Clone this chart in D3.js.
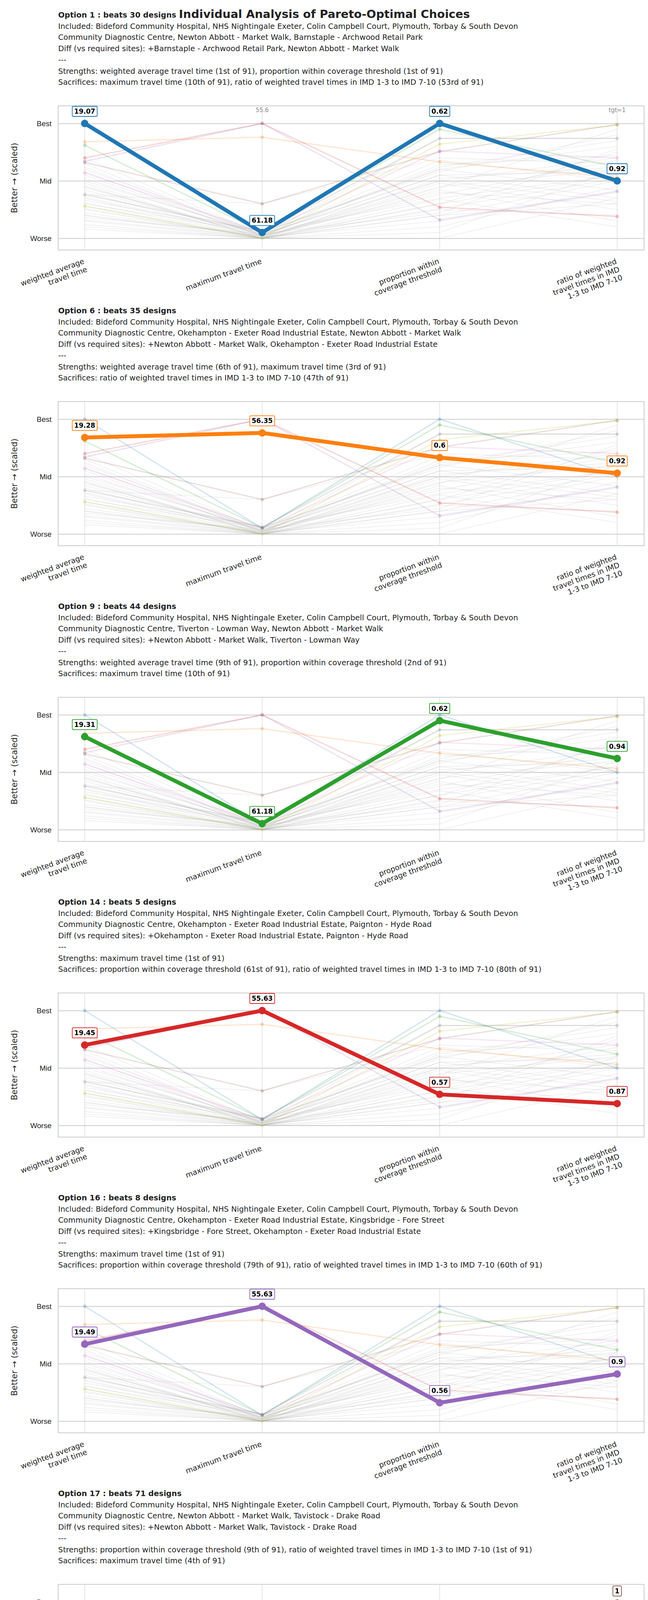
<!DOCTYPE html>
<html>
<head>
<meta charset="utf-8">
<script src="https://cdn.jsdelivr.net/npm/d3@7"></script>
<style>
  html, body { margin: 0; background: #fff; width: 1660px; height: 6852px; overflow: hidden; }
  svg { font-family: "DejaVu Sans", sans-serif; display: block; }
</style>
</head>
<body>
<div id="app"></div>
<script>
// axes (objectives)
const axisNames = [
  ["weighted average", "travel time"],
  ["maximum travel time"],
  ["proportion within", "coverage threshold"],
  ["ratio of weighted", "travel times in IMD", "1-3 to IMD 7-10"]
];

const optionIds = [1, 6, 9, 14, 16, 17, 28, 58, 73];
const optionBeats = [30, 35, 44, 5, 8, 71, 42, 27, 14];
const optionColors = ["#1f77b4", "#ff7f0e", "#2ca02c", "#d62728", "#9467bd", "#8c564b", "#e377c2", "#7f7f7f", "#bcbd22"];

const baseSites = "Included: Bideford Community Hospital, NHS Nightingale Exeter, Colin Campbell Court, Plymouth, Torbay & South Devon";
const includedRest = [
  "Community Diagnostic Centre, Newton Abbott - Market Walk, Barnstaple - Archwood Retail Park",
  "Community Diagnostic Centre, Okehampton - Exeter Road Industrial Estate, Newton Abbott - Market Walk",
  "Community Diagnostic Centre, Tiverton - Lowman Way, Newton Abbott - Market Walk",
  "Community Diagnostic Centre, Okehampton - Exeter Road Industrial Estate, Paignton - Hyde Road",
  "Community Diagnostic Centre, Okehampton - Exeter Road Industrial Estate, Kingsbridge - Fore Street",
  "Community Diagnostic Centre, Newton Abbott - Market Walk, Tavistock - Drake Road",
  "Community Diagnostic Centre, Newton Abbott - Market Walk, Paignton - Hyde Road",
  "Community Diagnostic Centre, Newton Abbott - Market Walk, Exmouth - The Strand",
  "Community Diagnostic Centre, Bovey Tracey - Blue Waters, Exmouth - The Strand"
];
const diffs = [
  "+Barnstaple - Archwood Retail Park, Newton Abbott - Market Walk",
  "+Newton Abbott - Market Walk, Okehampton - Exeter Road Industrial Estate",
  "+Newton Abbott - Market Walk, Tiverton - Lowman Way",
  "+Okehampton - Exeter Road Industrial Estate, Paignton - Hyde Road",
  "+Kingsbridge - Fore Street, Okehampton - Exeter Road Industrial Estate",
  "+Newton Abbott - Market Walk, Tavistock - Drake Road",
  "+Newton Abbott - Market Walk, Paignton - Hyde Road",
  "+Exmouth - The Strand, Newton Abbott - Market Walk",
  "+Bovey Tracey - Blue Waters, Exmouth - The Strand"
];
const strengths = [
  "weighted average travel time (1st of 91), proportion within coverage threshold (1st of 91)",
  "weighted average travel time (6th of 91), maximum travel time (3rd of 91)",
  "weighted average travel time (9th of 91), proportion within coverage threshold (2nd of 91)",
  "maximum travel time (1st of 91)",
  "maximum travel time (1st of 91)",
  "proportion within coverage threshold (9th of 91), ratio of weighted travel times in IMD 1-3 to IMD 7-10 (1st of 91)",
  "proportion within coverage threshold (7th of 91), ratio of weighted travel times in IMD 1-3 to IMD 7-10 (23rd of 91)",
  "proportion within coverage threshold (5th of 91), ratio of weighted travel times in IMD 1-3 to IMD 7-10 (11th of 91)",
  "proportion within coverage threshold (6th of 91), ratio of weighted travel times in IMD 1-3 to IMD 7-10 (2nd of 91)"
];
const sacrifices = [
  "maximum travel time (10th of 91), ratio of weighted travel times in IMD 1-3 to IMD 7-10 (53rd of 91)",
  "ratio of weighted travel times in IMD 1-3 to IMD 7-10 (47th of 91)",
  "maximum travel time (10th of 91)",
  "proportion within coverage threshold (61st of 91), ratio of weighted travel times in IMD 1-3 to IMD 7-10 (80th of 91)",
  "proportion within coverage threshold (79th of 91), ratio of weighted travel times in IMD 1-3 to IMD 7-10 (60th of 91)",
  "maximum travel time (4th of 91)",
  "weighted average travel time (28th of 91), maximum travel time (10th of 91)",
  "weighted average travel time (58th of 91), maximum travel time (10th of 91)",
  "weighted average travel time (73rd of 91), maximum travel time (37th of 91)"
];

// scaled (0 = worse, 1 = best) per option per axis
const optionScaled = [
  [1.00, 0.05, 1.00, 0.50],
  [0.84, 0.88, 0.665, 0.53],
  [0.81, 0.053, 0.95, 0.62],
  [0.70, 1.00, 0.27, 0.19],
  [0.67, 1.00, 0.16, 0.41],
  [0.66, 0.30, 0.755, 0.99],
  [0.57, 0.05, 0.76, 0.70],
  [0.38, 0.06, 0.87, 0.87],
  [0.28, 0.00, 0.82, 0.985]
];
// raw values shown in labels
const optionRaw = [
  ["19.07", "61.18", "0.62", "0.92"],
  ["19.28", "56.35", "0.6", "0.92"],
  ["19.31", "61.18", "0.62", "0.94"],
  ["19.45", "55.63", "0.57", "0.87"],
  ["19.49", "55.63", "0.56", "0.9"],
  ["19.52", "59.77", "0.6", "1"],
  ["19.63", "61.18", "0.6", "0.95"],
  ["19.87", "61.18", "0.61", "1.02"],
  ["20", "61.53", "0.61", "1"]
];
// reference notes shown in first panel
const refNotes = [null, "55.6", null, "tgt=1"];

// other (non-highlighted) designs, scaled
const otherDesigns = [
  [0.55,0.02,0.45,0.60],[0.48,0.00,0.30,0.75],[0.42,0.03,0.55,0.35],[0.35,0.00,0.20,0.50],
  [0.30,0.05,0.60,0.80],[0.25,0.00,0.10,0.45],[0.22,0.02,0.40,0.30],[0.20,0.00,0.05,0.60],
  [0.18,0.04,0.50,0.70],[0.15,0.00,0.25,0.20],[0.38,0.30,0.70,0.65],[0.60,0.05,0.35,0.55],
  [0.65,0.02,0.62,0.85],[0.45,0.01,0.15,0.40],[0.28,0.00,0.48,0.25],[0.12,0.00,0.30,0.55],
  [0.33,0.06,0.58,0.90],[0.40,0.00,0.42,0.15],[0.52,0.03,0.68,0.50],[0.10,0.00,0.00,0.35],
  [0.36,0.02,0.87,0.87],[0.26,0.00,0.52,0.62],[0.44,0.04,0.22,0.78],[0.58,0.01,0.50,0.32],
  [0.20,0.02,0.64,0.72],[0.31,0.00,0.34,0.10],[0.50,0.05,0.60,0.42],[0.16,0.01,0.44,0.95],
  [0.70,0.03,0.55,0.58],[0.08,0.00,0.20,0.30],[0.62,0.02,0.38,0.68],[0.46,0.00,0.26,0.52]
];

const W = 1660, H = 6852;
const panelStep = 757;
const fx = { l: 149, r: 1650 }; // frame
const frameTop = 271 - 39, frameH = 369; // relative to header baseline

const svg = d3.select("#app").append("svg").attr("width", W).attr("height", H);

svg.append("text").attr("x", 831).attr("y", 46).attr("text-anchor", "middle")
  .attr("font-size", 29).attr("font-weight", "bold").attr("fill", "#222")
  .text("Individual Analysis of Pareto-Optimal Choices");

const x = d3.scalePoint().domain(d3.range(4)).range([217, 1581]);

optionIds.forEach((id, i) => {
  const g = svg.append("g").attr("transform", `translate(0,${39 + i * panelStep})`);

  // text block
  const lines = [
    [`Option ${id} :  beats ${optionBeats[i]} designs`, true],
    [baseSites, false], [includedRest[i], false],
    ["Diff (vs required sites): " + diffs[i], false], ["---", false],
    ["Strengths: " + strengths[i], false], ["Sacrifices: " + sacrifices[i], false]
  ];
  lines.forEach((ln, k) => {
    g.append("text").attr("x", 149).attr("y", k * 28.7 + 6)
      .attr("font-size", 19.5).attr("fill", "#222")
      .attr("font-weight", ln[1] ? "bold" : "normal").text(ln[0]);
  });

  const top = frameTop, bot = frameTop + frameH;
  const y = d3.scaleLinear().domain([0, 1]).range([bot - 30, top + 45]);

  // frame + grid
  g.append("rect").attr("x", fx.l).attr("y", top).attr("width", fx.r - fx.l).attr("height", frameH)
    .attr("fill", "none").attr("stroke", "#ccc").attr("stroke-width", 2);
  x.domain().forEach(a => g.append("line").attr("x1", x(a)).attr("x2", x(a))
    .attr("y1", top).attr("y2", bot).attr("stroke", "#ddd").attr("stroke-width", 1.5));
  const yAxis = g.append("g").attr("transform", `translate(${fx.l},0)`)
    .call(d3.axisLeft(y).tickValues([0, 0.5, 1]).tickSize(-(fx.r - fx.l))
      .tickFormat(v => v === 1 ? "Best" : v === 0 ? "Worse" : "Mid"));
  yAxis.select(".domain").remove();
  yAxis.selectAll(".tick line").attr("stroke", "#ccc").attr("stroke-width", 2);
  yAxis.selectAll(".tick text").attr("font-size", 19).attr("fill", "#222").attr("x", -17);

  g.append("text").attr("transform", `translate(44,${(top + bot) / 2}) rotate(-90)`)
    .attr("text-anchor", "middle").attr("font-size", 21).attr("fill", "#222")
    .text("Better \u2192 (scaled)");

  // axis labels
  axisNames.forEach((nm, a) => {
    const t = g.append("text").attr("transform", `translate(${x(a)},${bot + 34}) rotate(-20)`)
      .attr("text-anchor", "end").attr("font-size", 19).attr("fill", "#222");
    nm.forEach((s, k) => t.append("tspan").attr("x", 0).attr("dy", k ? 22 : 0).text(s));
  });

  const line = d3.line().x((d, a) => x(a)).y(d => y(d));

  // other designs
  g.append("g").selectAll("path").data(otherDesigns).enter().append("path")
    .attr("d", line).attr("fill", "none").attr("stroke", "#aaa").attr("stroke-opacity", 0.18).attr("stroke-width", 2);

  // faint option lines
  optionScaled.forEach((vals, j) => {
    if (j === i) return;
    g.append("path").attr("d", line(vals)).attr("fill", "none")
      .attr("stroke", optionColors[j]).attr("stroke-opacity", 0.2).attr("stroke-width", 3);
    g.selectAll(null).data(vals).enter().append("circle")
      .attr("cx", (d, a) => x(a)).attr("cy", d => y(d)).attr("r", 4.5)
      .attr("fill", optionColors[j]).attr("fill-opacity", 0.25);
  });

  // highlighted option
  const c = optionColors[i];
  g.append("path").attr("d", line(optionScaled[i])).attr("fill", "none")
    .attr("stroke", c).attr("stroke-width", 10).attr("stroke-linejoin", "round");
  g.selectAll(null).data(optionScaled[i]).enter().append("circle")
    .attr("cx", (d, a) => x(a)).attr("cy", d => y(d)).attr("r", 9.5).attr("fill", c);

  optionRaw[i].forEach((txt, a) => {
    const cy = y(optionScaled[i][a]) - 31;
    const lab = g.append("g").attr("transform", `translate(${x(a)},${cy})`);
    const t = lab.append("text").attr("text-anchor", "middle").attr("dy", "0.35em")
      .attr("font-size", 17).attr("font-weight", "bold").attr("fill", "#000").text(txt);
    const w = t.node().getComputedTextLength() + 10;
    lab.insert("rect", "text").attr("x", -w / 2).attr("y", -13).attr("width", w).attr("height", 26)
      .attr("rx", 3).attr("fill", "#fff").attr("stroke", c).attr("stroke-width", 1.8);
  });

  if (i === 0) {
    refNotes.forEach((n, a) => {
      if (!n) return;
      g.append("text").attr("x", x(a)).attr("y", top + 16).attr("text-anchor", "middle")
        .attr("font-size", 15).attr("fill", "#888").text(n);
    });
  }
});
</script>
</body>
</html>
